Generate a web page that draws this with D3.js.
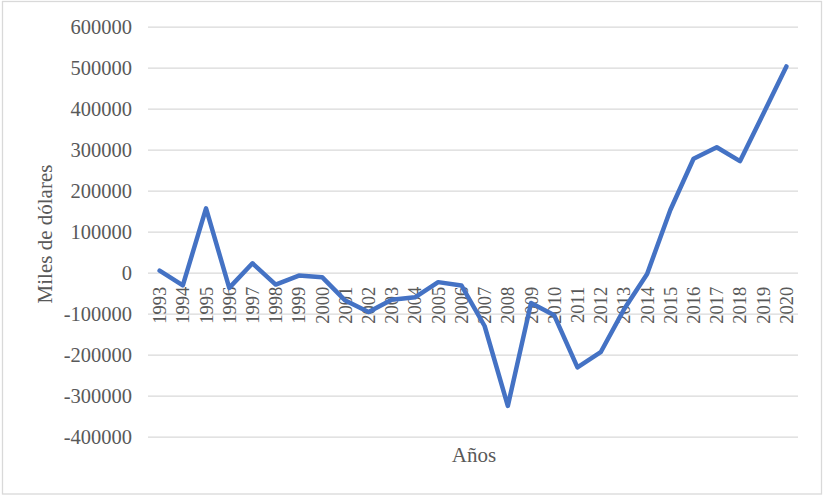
<!DOCTYPE html>
<html>
<head>
<meta charset="utf-8">
<script src="https://cdn.jsdelivr.net/npm/d3@7"></script>
<style>
  html, body { margin: 0; padding: 0; background: #fff; }
  svg { display: block; }
  text { font-family: "Liberation Serif", "Times New Roman", serif; fill: #595959; }
</style>
</head>
<body>
<svg id="chart" width="827" height="497"></svg>
<script>
const years = ["1993","1994","1995","1996","1997","1998","1999","2000","2001","2002","2003","2004","2005","2006","2007","2008","2009","2010","2011","2012","2013","2014","2015","2016","2017","2018","2019","2020"];
const values = [5000,-31000,157000,-37000,23000,-29000,-7000,-11000,-68000,-96000,-66000,-60000,-23000,-31000,-130000,-325000,-74000,-104000,-231000,-194000,-90000,-3000,153000,278000,306000,272000,387000,503000];
const yTicks = [-400000,-300000,-200000,-100000,0,100000,200000,300000,400000,500000,600000];
const yTitle = "Miles de dólares";
const xTitle = "Años";

const svg = d3.select("#chart");

// chart border
svg.append("rect")
  .attr("x", 2.5).attr("y", 1.5).attr("width", 819).attr("height", 492.5)
  .attr("fill", "#fff").attr("stroke", "#d9d9d9").attr("stroke-width", 1.3);

const x = d3.scalePoint().domain(years).range([148, 798]).padding(0.5);
const y = d3.scaleLinear().domain([-400000, 600000]).range([436.7, 26.7]);

// gridlines
const yAxis = d3.axisLeft(y).tickValues(yTicks).tickSize(-(798 - 148)).tickPadding(16)
  .tickFormat(d => String(d));
const gy = svg.append("g").attr("transform", "translate(148,0)").call(yAxis);
gy.select(".domain").remove();
gy.selectAll(".tick line").attr("stroke", "#d9d9d9").attr("stroke-width", 1.3);
gy.selectAll(".tick text").attr("font-size", "20.5px").attr("fill", "#595959")
  .style("font-family", '"Liberation Serif", "Times New Roman", serif');

// x labels (rotated) next to zero axis
const xAxis = d3.axisBottom(x).tickSize(0).tickPadding(0);
const gx = svg.append("g").attr("transform", `translate(0,${y(0)})`).call(xAxis);
gx.select(".domain").remove();
gx.selectAll(".tick text")
  .attr("font-size", "18.5px")
  .attr("fill", "#595959")
  .style("font-family", '"Liberation Serif", "Times New Roman", serif')
  .attr("text-anchor", "end")
  .attr("dy", null)
  .attr("y", 0)
  .attr("transform", "translate(0,14) rotate(-90)")
  .attr("x", 0)
  .attr("dominant-baseline", "central");

// line
const line = d3.line().x((d, i) => x(years[i])).y(d => y(d));
svg.append("path")
  .datum(values)
  .attr("d", line)
  .attr("fill", "none")
  .attr("stroke", "#4472C4")
  .attr("stroke-width", 4.5)
  .attr("stroke-linejoin", "round")
  .attr("stroke-linecap", "round");

// titles
svg.append("text")
  .attr("x", 474).attr("y", 462)
  .attr("text-anchor", "middle")
  .attr("font-size", "21px")
  .text(xTitle);

svg.append("text")
  .attr("transform", "translate(52,234) rotate(-90)")
  .attr("text-anchor", "middle")
  .attr("font-size", "21px")
  .text(yTitle);
</script>
</body>
</html>
